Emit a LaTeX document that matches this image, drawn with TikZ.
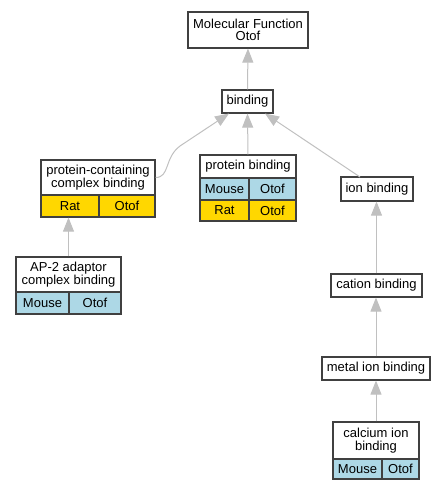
\documentclass[tikz,border=0pt]{standalone}
\usepackage{fontspec}
\setmainfont{Liberation Sans}
\usetikzlibrary{arrows.meta}

\definecolor{boxline}{HTML}{404040}
\definecolor{edgegray}{HTML}{C0C0C0}
\definecolor{mousecol}{HTML}{ADD8E6}
\definecolor{ratcol}{HTML}{FFD700}

\tikzset{
  term/.style={draw=boxline, line width=1.2pt, fill=white, inner sep=0pt, align=center,
    font=\fontsize{13}{12.5}\selectfont},
  cell/.style={term, font=\fontsize{13}{13}\selectfont},
  mouse/.style={cell, fill=mousecol},
  rat/.style={cell, fill=ratcol},
  isa/.style={draw=edgegray, line width=1pt, -{Triangle[length=14pt,width=11pt]}}
}

\begin{document}
\begin{tikzpicture}[x=1pt,y=-1pt]
\useasboundingbox (0,0) rectangle (445,491);

% terms
\node[term, minimum width=120pt, minimum height=36pt] (mf) at (248,30) {Molecular Function\\Otof};
\node[term, minimum width=51pt, minimum height=23pt] (binding) at (247.5,101.5) {binding};

\node[term, minimum width=114pt, minimum height=35pt] (pcc) at (98,177.5) {protein-containing\\complex binding};
\node[rat, minimum width=58pt, minimum height=22pt] (pccrat) at (70,206) {Rat};
\node[rat, minimum width=56pt, minimum height=22pt] (pccotof) at (127,206) {Otof};

\node[term, minimum width=96pt, minimum height=23pt] (pb) at (248,166.5) {protein binding};
\node[mouse, minimum width=49pt, minimum height=22pt] (pbmouse) at (224.5,189) {Mouse};
\node[mouse, minimum width=47pt, minimum height=22pt] (pbotofa) at (272.5,189) {Otof};
\node[rat, minimum width=49pt, minimum height=21pt] (pbrat) at (224.5,210.5) {Rat};
\node[rat, minimum width=47pt, minimum height=21pt] (pbotofb) at (272.5,210.5) {Otof};

\node[term, minimum width=72pt, minimum height=24pt] (ion) at (377,189) {ion binding};

\node[term, minimum width=105pt, minimum height=35pt] (ap) at (68.5,274.5) {AP-2 adaptor\\complex binding};
\node[mouse, minimum width=53pt, minimum height=22pt] (apmouse) at (42.5,303) {Mouse};
\node[mouse, minimum width=52pt, minimum height=22pt] (apotof) at (95,303) {Otof};

\node[term, minimum width=91pt, minimum height=23pt] (cation) at (376.5,285.5) {cation binding};
\node[term, minimum width=108pt, minimum height=23pt] (metal) at (376,368.5) {metal ion binding};

\node[term, minimum width=86pt, minimum height=37pt] (calcium) at (376,440.5) {calcium ion\\binding};
\node[mouse, minimum width=49pt, minimum height=20pt] (camouse) at (357.5,469) {Mouse};
\node[mouse, minimum width=37pt, minimum height=20pt] (caotof) at (400.5,469) {Otof};

% ends of the slanted edges
\coordinate (bindl) at (229,113.5);
\coordinate (bindr) at (265,113.5);
\coordinate (ionstart) at (360,177);

% edges
\draw[isa] (binding.north) -- (mf.south);
\draw[isa] (pb.north) -- (binding.south);
\draw[isa] (pcc.east) .. controls (170,177.5) and (164,158) .. (180,146) -- (bindl);
\draw[isa] (ionstart) -- (bindr);
\draw[isa] (ap.north) -- (ap.north |- pccrat.south);
\draw[isa] (cation.north) -- (cation.north |- ion.south);
\draw[isa] (metal.north) -- (metal.north |- cation.south);
\draw[isa] (calcium.north) -- (calcium.north |- metal.south);
\end{tikzpicture}
\end{document}
